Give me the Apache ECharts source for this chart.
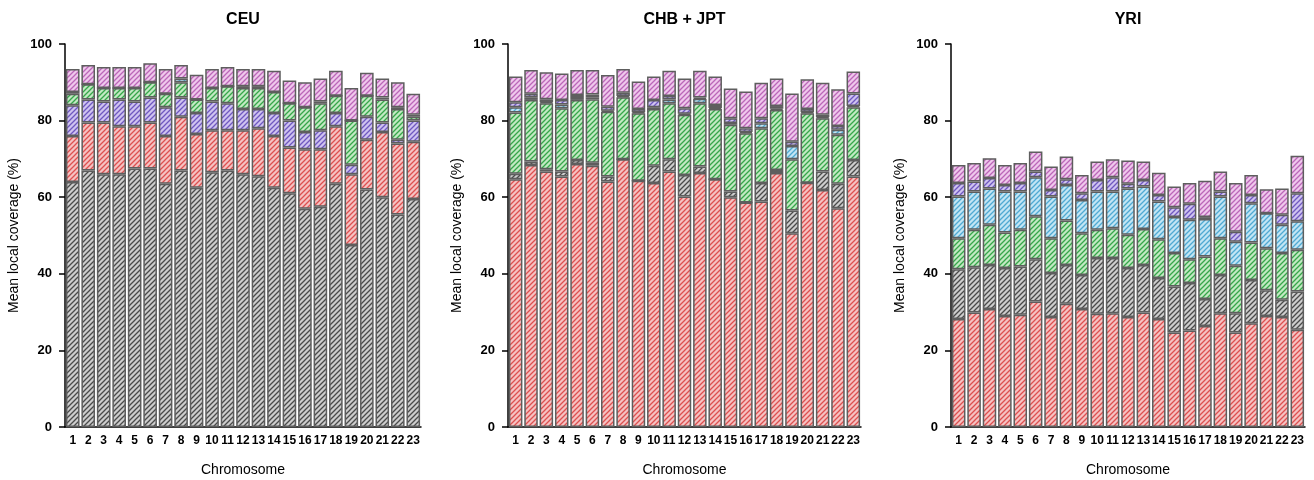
<!DOCTYPE html>
<html><head><meta charset="utf-8">
<script src="https://cdn.jsdelivr.net/npm/echarts@6/dist/echarts.min.js"></script>
<style>html,body{margin:0;padding:0;background:#fff}#c{width:1314px;height:480px}</style>
</head><body><div id="c"></div>
<script>
// ---------- data ----------
const chromosomes = ['1','2','3','4','5','6','7','8','9','10','11','12','13','14','15','16','17','18','19','20','21','22','23'];
const panelTitles = ['CEU', 'CHB + JPT', 'YRI'];
const yAxisTitle = 'Mean local coverage (%)';
const xAxisTitle = 'Chromosome';

// CEU panel (stack order bottom->top: gray, red, purple, green, cyan, pink)
const ceuGray   = [64, 67, 66, 66, 67.5, 67.5, 63.5, 67, 62.5, 66.5, 67, 66, 65.5, 62.5, 61, 57, 57.5, 63.5, 47.5, 62, 60, 55.5, 59.5];
const ceuRed    = [12, 12.5, 13.5, 12.5, 11, 12, 12.5, 14, 14, 11, 10.5, 11.5, 12.5, 13.5, 12, 15.5, 15, 15, 18.5, 13, 17, 18.5, 15];
const ceuPurple = [8, 6, 5.5, 7, 6.5, 6.5, 7.5, 5, 5.5, 7.5, 7, 5.5, 5, 6, 7, 4.5, 5, 3.5, 2.5, 6, 2.5, 1, 5.5];
const ceuGreen  = [3, 4, 3.5, 3, 3.5, 4, 3.5, 4, 3.5, 3.5, 4.5, 5.5, 5.5, 5.5, 4.5, 6.5, 7, 4.5, 11.5, 5.5, 6, 8, 1];
const ceuCyan   = [0.5, 0, 0, 0, 0, 0, 0, 1, 0, 0, 0, 0.5, 0.5, 0, 0, 0, 0.5, 0, 0, 0, 0.5, 0.5, 0.5];
const ceuPink   = [6, 5, 5.5, 5.5, 5.5, 5, 6.5, 3.5, 6.5, 5, 5, 4.5, 4.5, 5.5, 6, 6.5, 6, 6.5, 8.5, 6, 5, 6.5, 5.5];

// CHB + JPT panel (stack order: red, gray, green, cyan, purple, pink)
const chbRed    = [64.7, 68.4, 66.7, 65.4, 68.7, 68.2, 64.1, 69.9, 64.3, 63.7, 66.7, 60.2, 66.3, 64.7, 60, 58.6, 58.9, 66.3, 50.6, 63.8, 61.9, 57.1, 65.4];
const chbGray   = [1.4, 0.9, 0.6, 1.3, 1, 0.8, 1.3, 0, 0, 4.5, 3.2, 5.6, 1.7, 0, 1.5, 0, 4.8, 0.8, 5.9, 0, 4.8, 6.4, 4.3];
const chbGreen  = [16, 16.1, 17.2, 16.5, 15.7, 16.6, 16.9, 16.2, 17.6, 14.8, 14.6, 15.7, 16.5, 18.3, 17.4, 18.1, 14.3, 15.7, 13.4, 18.1, 13.9, 12.8, 13.8];
const chbCyan   = [1.4, 0.7, 0.3, 1, 0.5, 0.5, 0.3, 0.3, 0.3, 0.5, 1, 0.3, 1.2, 0.3, 0.5, 0.3, 1.3, 0.3, 3.5, 0.3, 0.3, 1.3, 0.3];
const chbPurple = [1.3, 0.9, 0.8, 1.2, 0.8, 0.7, 1, 0.9, 0.8, 1.9, 0.9, 1.4, 0.3, 0.8, 1.2, 1, 1.3, 0.7, 1.1, 0.8, 0.6, 1, 3.3];
const chbPink   = [6.7, 6.2, 7.0, 6.9, 6.5, 6.4, 8.3, 6.2, 7.2, 6.1, 6.6, 7.8, 7.0, 7.4, 7.8, 9.6, 9.3, 7.2, 12.6, 7.8, 8.4, 9.6, 5.7];

// YRI panel (stack order: red, gray, green, cyan, purple, pink)
const yriRed    = [28.2, 29.9, 30.8, 29, 29.3, 32.8, 28.7, 32.2, 30.8, 29.6, 29.7, 28.7, 29.9, 28.2, 24.7, 25.2, 26.4, 29.7, 24.7, 27.1, 29, 28.7, 25.4];
const yriGray   = [13, 11.8, 11.5, 12.5, 12.6, 11, 11.5, 10.1, 8.9, 14.5, 14.4, 12.8, 12.4, 10.7, 12, 12.4, 7, 10, 5, 11.3, 6.7, 4.5, 10];
const yriGreen  = [8.1, 9.8, 10.5, 9.3, 9.6, 11.2, 9.1, 11.6, 10.9, 7.4, 7.8, 8.7, 9.4, 10.1, 8.7, 6.2, 11.1, 9.6, 12.4, 9.8, 11, 12.2, 10.9];
const yriCyan   = [10.9, 10, 9.5, 10.7, 10, 10.2, 10.9, 9.3, 8.7, 10, 9.6, 12.1, 11.1, 9.9, 9.4, 10.3, 9.8, 10.9, 6.3, 10.2, 9.1, 7.4, 7.4];
const yriPurple = [3.5, 2.6, 2.7, 1.7, 2.2, 1.5, 1.7, 1.5, 1.7, 3, 3.7, 1.2, 1.7, 1.7, 2.6, 4.2, 0.5, 1.3, 2.6, 2.2, 0, 2.6, 7.3];
const yriPink   = [4.7, 4.8, 5.2, 5.2, 5.2, 5.2, 6.1, 5.9, 4.8, 4.8, 4.7, 6.1, 4.8, 5.8, 5.4, 5.4, 9.5, 5.2, 12.7, 5.2, 6.3, 6.9, 9.8];

// ---------- styling ----------
const FONT = '"Liberation Sans", Arial, sans-serif';
const palette = {
  gray:   ['#cdcdcd', '#4a4a4a'],
  red:    ['#f5c2c2', '#dd5050'],
  purple: ['#cfc3f0', '#6f58c0'],
  green:  ['#c2e9c2', '#36a64a'],
  cyan:   ['#c2e5f4', '#4fa9d2'],
  pink:   ['#efc8ec', '#bb66b8']
};
function hatch(bg, fg) {
  const s = 5;
  const c = document.createElement('canvas');
  c.width = s; c.height = s;
  const g = c.getContext('2d');
  g.fillStyle = bg; g.fillRect(0, 0, s, s);
  g.strokeStyle = fg; g.lineWidth = 1.3;
  g.beginPath();
  g.moveTo(0, s); g.lineTo(s, 0);
  g.moveTo(-1, 1); g.lineTo(1, -1);
  g.moveTo(s - 1, s + 1); g.lineTo(s + 1, s - 1);
  g.stroke();
  return { image: c, repeat: 'repeat' };
}

const panels = [
  { stack: [['gray', ceuGray], ['red', ceuRed], ['purple', ceuPurple], ['green', ceuGreen], ['cyan', ceuCyan], ['pink', ceuPink]] },
  { stack: [['red', chbRed], ['gray', chbGray], ['green', chbGreen], ['cyan', chbCyan], ['purple', chbPurple], ['pink', chbPink]] },
  { stack: [['red', yriRed], ['gray', yriGray], ['green', yriGreen], ['cyan', yriCyan], ['purple', yriPurple], ['pink', yriPink]] }
];
const grids = [
  { left: 65, width: 356, top: 44, height: 383 },
  { left: 508, width: 353, top: 44, height: 383 },
  { left: 951, width: 354, top: 44, height: 383 }
];

const grid = [], xAxis = [], yAxis = [], series = [], graphic = [];
panels.forEach((p, i) => {
  const gr = grids[i];
  grid.push({ left: gr.left, top: gr.top, width: gr.width, height: gr.height, containLabel: false, outerBoundsMode: 'none' });
  xAxis.push({
    type: 'category', gridIndex: i, data: chromosomes,
    axisLine: { lineStyle: { color: '#000', width: 1.5 } },
    axisTick: { show: false },
    axisLabel: { interval: 0, margin: 8, color: '#000', fontFamily: FONT, fontWeight: 'bold', fontSize: 12 },
    name: xAxisTitle, nameLocation: 'middle', nameGap: 36,
    nameTextStyle: { color: '#000', fontFamily: FONT, fontSize: 14 }
  });
  yAxis.push({
    type: 'value', gridIndex: i, min: 0, max: 100, interval: 20,
    splitLine: { show: false },
    axisLine: { show: true, lineStyle: { color: '#000', width: 1.5 } },
    axisTick: { show: true, length: 6, lineStyle: { color: '#000', width: 1.5 } },
    axisLabel: { margin: 13, color: '#000', fontFamily: FONT, fontWeight: 'bold', fontSize: 13 },
    name: yAxisTitle, nameLocation: 'middle', nameGap: 44, nameRotate: 90,
    nameTextStyle: { color: '#000', fontFamily: FONT, fontSize: 14 }
  });
  p.stack.forEach(([key, values]) => {
    series.push({
      type: 'bar', name: panelTitles[i] + ' ' + key, xAxisIndex: i, yAxisIndex: i,
      stack: 'p' + i, data: values, barCategoryGap: '12%',
      itemStyle: { color: hatch(palette[key][0], palette[key][1]), borderColor: '#5e5e5e', borderWidth: 1.5 },
      emphasis: { disabled: true }, silent: true, animation: false
    });
  });
  graphic.push({
    type: 'text', x: gr.left + gr.width / 2, y: 20,
    style: { text: panelTitles[i], textAlign: 'center', textVerticalAlign: 'middle', fill: '#000', font: 'bold 16px ' + FONT }
  });
});

const chart = echarts.init(document.getElementById('c'), null, { renderer: 'canvas' });
chart.setOption({ animation: false, grid, xAxis, yAxis, series, graphic });
</script>
</body></html>
